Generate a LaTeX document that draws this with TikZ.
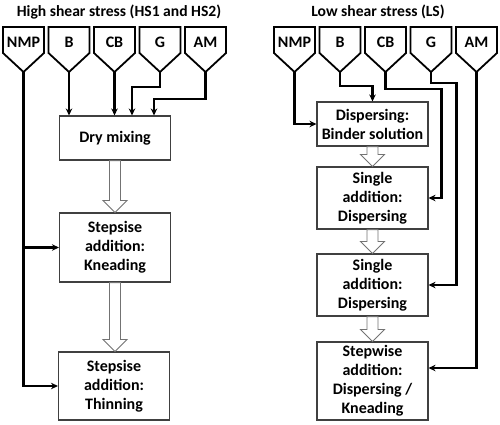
\documentclass[tikz,border=0pt]{standalone}
\usepackage{fontspec}
\setmainfont{Carlito}
\usetikzlibrary{arrows.meta,calc}
\newcommand\hollowarr[2]{%
  \draw[harr] let \p1=(#1.south), \p2=(#2.north) in
    (\x1-5.5pt,\y1) -- (\x1+5.5pt,\y1) -- (\x1+5.5pt,\y2+12pt) -- (\x1+12pt,\y2+12pt)
    -- (\x1,\y2) -- (\x1-12pt,\y2+12pt) -- (\x1-5.5pt,\y2+12pt) -- cycle;}
\newcommand\funnelat[3]{% name, left x, label
  \draw[funnel] (#2,27) -- ++(41,0) -- ++(0,26) -- ++(-20.5,19) -- ++(-20.5,-19) -- cycle;
  \node[flabel] (#1) at (#2+20.5,42) {#3};
  \coordinate (#1t) at (#2+20.5,72);}
\tikzset{
  txt/.style={font=\fontsize{16}{19}\selectfont\bfseries},
  ttl/.style={font=\fontsize{15.6}{19}\selectfont\bfseries},
  flabel/.style={txt, inner sep=0pt},
  funnel/.style={draw=black, line width=1.8pt, line join=miter},
  box/.style={draw=black!75, line width=1.1pt, txt, align=center, minimum width=111pt, inner sep=1pt},
  conn/.style={draw=black, line width=2.2pt, -{Stealth[length=7pt,width=6.5pt]}},
  harr/.style={draw=black!55, line width=0.9pt, fill=white},
}
\begin{document}
\begin{tikzpicture}[x=1pt,y=-1pt]
\useasboundingbox (0,0) rectangle (500,424);
% titles
\node[ttl] (tl) at (119,12) {High shear stress (HS1 and HS2)};
\node[ttl] (tr) at (378,12) {Low shear stress (LS)};
% left funnels
\funnelat{lNMP}{3}{NMP}
\funnelat{lB}{48.5}{B}
\funnelat{lCB}{94}{CB}
\funnelat{lG}{139.5}{G}
\funnelat{lAM}{185}{AM}
% right funnels
\funnelat{rNMP}{274}{NMP}
\funnelat{rB}{319.5}{B}
\funnelat{rCB}{365}{CB}
\funnelat{rG}{410.5}{G}
\funnelat{rAM}{456}{AM}
% left boxes
\node[box, minimum height=44pt] (dry) at (115,138) {Dry mixing};
\node[box, minimum height=69pt] (knead) at (115,247.5) {Stepsise\\addition:\\Kneading};
\node[box, minimum height=68pt] (thin) at (114,386) {Stepsise\\addition:\\Thinning};
% right boxes
\node[box, minimum height=44pt] (disp) at (372.5,124) {Dispersing:\\Binder solution};
\node[box, minimum height=62pt] (sa1) at (372.5,198) {Single\\addition:\\Dispersing};
\node[box, minimum height=62pt] (sa2) at (372.5,285) {Single\\addition:\\Dispersing};
\node[box, minimum height=78pt] (sw) at (372.5,381) {Stepwise\\addition:\\Dispersing /\\Kneading};
% hollow arrows
\hollowarr{dry}{knead}
\hollowarr{knead}{thin}
\hollowarr{disp}{sa1}
\hollowarr{sa1}{sa2}
\hollowarr{sa2}{sw}
% left connectors
\draw[conn] (lBt) -- (lBt |- dry.north);
\draw[conn] (lCBt) -- (lCBt |- dry.north);
\draw[conn] (lGt) -- ++(0,15) -| ([xshift=17pt]dry.north);
\draw[conn] (lAMt) -- ++(0,27) -| ([xshift=39pt]dry.north);
\draw[conn] (lNMPt) |- (knead.west);
\draw[conn] (lNMPt) |- (thin.west);
% right connectors
\draw[conn] (rNMPt) |- (disp.west);
\draw[conn] (rBt) -- ++(0,14) -| (disp.north);
\draw[conn] (rCBt) -- ++(0,17) -| ([xshift=13pt]sa1.east) -- (sa1.east);
\draw[conn] (rGt) -- ++(0,11) -| ([xshift=28pt]sa2.east) -- (sa2.east);
\draw[conn] (rAMt) |- ([yshift=13pt]sw.east);
\end{tikzpicture}
\end{document}
